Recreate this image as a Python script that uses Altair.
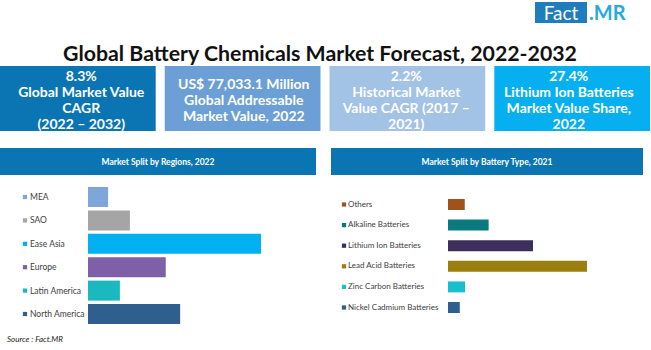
import altair as alt
import pandas as pd

# ---------------- data ----------------
title_text = "Global Battery Chemicals Market Forecast, 2022-2032"

kpi_ids = ["k1", "k2", "k3", "k4"]
kpi_texts = [
    "8.3%\nGlobal Market Value\nCAGR\n(2022 \u2013 2032)",
    "US$ 77,033.1 Million\nGlobal Addressable\nMarket Value, 2022",
    "2.2%\nHistorical Market\nValue CAGR (2017 \u2013\n2021)",
    "27.4%\nLithium Ion Batteries\nMarket Value Share,\n2022",
]

regions = ["MEA", "SAO", "Ease Asia", "Europe", "Latin America", "North America"]
region_share = [4.6, 9.6, 39.6, 17.8, 7.3, 21.1]

battery_types = ["Others", "Alkaline Batteries", "Lithium Ion Batteries",
                 "Lead Acid Batteries", "Zinc Carbon Batteries", "Nickel Cadmium Batteries"]
battery_share = [5.4, 13.1, 27.4, 44.8, 5.5, 3.8]

left_header = "Market Split by Regions, 2022"
right_header = "Market Split by Battery Type, 2021"
source_text = "Source : Fact.MR"

# ---------------- styles ----------------
FONT = "Lato"
kpi_colors = ["#0b75b4", "#6b9fd6", "#a2c2e6", "#06aff0"]
region_colors = ["#7ea6d8", "#a5a5a5", "#00b0f0", "#7f60a8", "#1cb8c0", "#2e5f8f"]
battery_colors = ["#a0521c", "#0b7a7e", "#3d2f5b", "#9b7e10", "#19bfcf", "#2d5f91"]
header_color = "#0b75b4"

one = pd.DataFrame({"a": [0]})
pix_y = alt.Scale(domain=[0, 350], range=[0, 350], nice=False, zero=False)

# ---------------- KPI boxes ----------------
kpi_df = pd.DataFrame({"kpi": kpi_ids, "text": kpi_texts})
kx = alt.X("kpi:N", sort=kpi_ids,
           scale=alt.Scale(domain=kpi_ids, range=[0, 650], paddingInner=0.055, paddingOuter=0),
           axis=None)
kpi_boxes = alt.Chart(kpi_df).mark_bar(cornerRadius=0).encode(
    x=kx, y=alt.value(66), y2=alt.value(131),
    color=alt.Color("kpi:N", scale=alt.Scale(domain=kpi_ids, range=kpi_colors), legend=None),
)
# vertically centre each multi-line block around the box middle
kpi_text = alt.Chart(kpi_df).transform_calculate(
    nlines="length(split(datum.text, '\\n'))"
).transform_calculate(
    ypos="101 - (datum.nlines - 1) * 8"
).mark_text(
    color="white", font=FONT, fontWeight="bold", fontSize=14,
    lineBreak="\n", lineHeight=16, baseline="middle", align="center",
).encode(x=kx, y=alt.Y("ypos:Q", scale=pix_y, axis=None), text="text:N")

# ---------------- title & logo ----------------
title = alt.Chart(pd.DataFrame({"t": [title_text]})).mark_text(
    font=FONT, fontWeight="bold", fontSize=21.3, color="#111111", align="center", baseline="alphabetic"
).encode(x=alt.value(320), y=alt.value(61), text="t:N")

logo_box = alt.Chart(one).mark_rect(color="#1f7cbd").encode(
    x=alt.value(535), x2=alt.value(587), y=alt.value(2), y2=alt.value(23))
logo_fact = alt.Chart(pd.DataFrame({"t": ["Fact"]})).mark_text(
    font=FONT, fontSize=19, color="white", align="center", baseline="alphabetic"
).encode(x=alt.value(561), y=alt.value(20), text="t:N")
logo_mr = alt.Chart(pd.DataFrame({"t": [".MR"]})).mark_text(
    font=FONT, fontSize=20, fontWeight="bold", color="#2aa8e0", align="left", baseline="alphabetic"
).encode(x=alt.value(589), y=alt.value(20), text="t:N")

# ---------------- panel headers ----------------
hdr_l = alt.Chart(one).mark_rect(color=header_color).encode(
    x=alt.value(0), x2=alt.value(316), y=alt.value(148), y2=alt.value(175))
hdr_r = alt.Chart(one).mark_rect(color=header_color).encode(
    x=alt.value(331), x2=alt.value(643), y=alt.value(148), y2=alt.value(175))
hdr_l_t = alt.Chart(pd.DataFrame({"t": [left_header]})).mark_text(
    font=FONT, fontWeight="bold", fontSize=8.5, color="white", align="center", baseline="middle"
).encode(x=alt.value(158), y=alt.value(162), text="t:N")
hdr_r_t = alt.Chart(pd.DataFrame({"t": [right_header]})).mark_text(
    font=FONT, fontWeight="bold", fontSize=8.5, color="white", align="center", baseline="middle"
).encode(x=alt.value(487), y=alt.value(162), text="t:N")

# ---------------- left panel: regions ----------------
rdf = pd.DataFrame({"region": regions, "share": region_share})
ry = alt.Y("region:N", sort=regions,
           scale=alt.Scale(domain=regions, range=[185.3, 325.7], paddingInner=0.145, paddingOuter=0.0725),
           axis=None)
rx = alt.X("share:Q", scale=alt.Scale(domain=[0, 40], range=[88, 262.7], nice=False), axis=None)
rcol = alt.Color("region:N", scale=alt.Scale(domain=regions, range=region_colors), legend=None)

r_bars = alt.Chart(rdf).mark_bar().encode(x=rx, y=ry, color=rcol)
r_sq = alt.Chart(rdf).mark_square(size=18, opacity=1).encode(x=alt.value(25), y=ry, color=rcol)
r_lab = alt.Chart(rdf).mark_text(
    font=FONT, fontSize=8.5, color="#404040", align="left", baseline="middle"
).encode(x=alt.value(30), y=ry, text="region:N")

# ---------------- right panel: battery type ----------------
bdf = pd.DataFrame({"type": battery_types, "share": battery_share})
by = alt.Y("type:N", sort=battery_types,
           scale=alt.Scale(domain=battery_types, range=[194.2, 317.8], paddingInner=0.466, paddingOuter=0.233),
           axis=None)
bx = alt.X("share:Q", scale=alt.Scale(domain=[0, 45], range=[448, 587.6], nice=False), axis=None)
bcol = alt.Color("type:N", scale=alt.Scale(domain=battery_types, range=battery_colors), legend=None)

b_bars = alt.Chart(bdf).mark_bar().encode(x=bx, y=by, color=bcol)
b_sq = alt.Chart(bdf).mark_square(size=18, opacity=1).encode(x=alt.value(344), y=by, color=bcol)
b_lab = alt.Chart(bdf).mark_text(
    font=FONT, fontSize=8, color="#404040", align="left", baseline="middle"
).encode(x=alt.value(348), y=by, text="type:N")

# ---------------- source ----------------
src = alt.Chart(pd.DataFrame({"t": [source_text]})).mark_text(
    font=FONT, fontSize=8, fontStyle="italic", color="#222222", align="left", baseline="middle"
).encode(x=alt.value(7), y=alt.value(340), text="t:N")

chart = alt.layer(
    title, logo_box, logo_fact, logo_mr,
    kpi_boxes, kpi_text,
    hdr_l, hdr_r, hdr_l_t, hdr_r_t,
    r_bars, r_sq, r_lab,
    b_bars, b_sq, b_lab,
    src,
).resolve_scale(
    x="independent", y="independent", color="independent"
).properties(
    width=651, height=350,
    autosize=alt.AutoSizeParams(type="none"),
    padding=0,
    background="white",
).configure_view(stroke=None)

chart.save("out.html", embed_options={"renderer": "svg", "actions": False})
